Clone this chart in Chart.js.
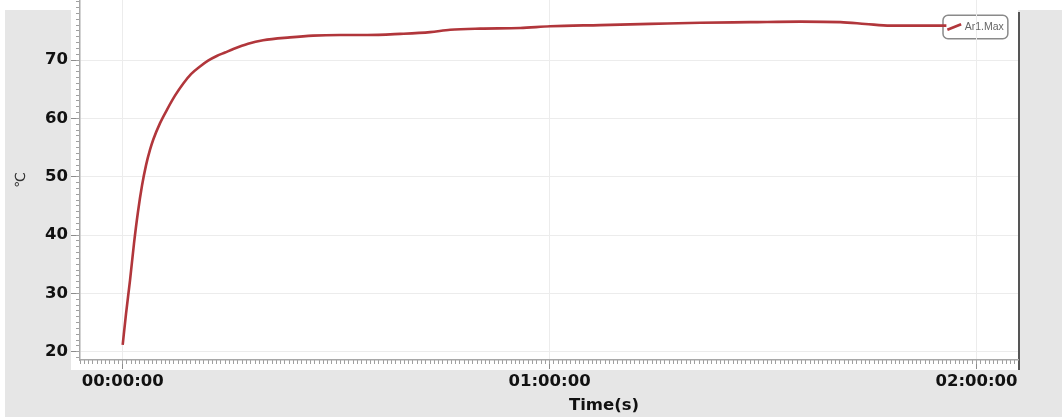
<!DOCTYPE html>
<html>
<head>
<meta charset="utf-8">
<script src="https://cdn.jsdelivr.net/npm/chart.js@4/dist/chart.umd.min.js"></script>
<style>
  html, body { margin: 0; padding: 0; background: #ffffff; }
  #wrap { position: relative; width: 1062px; height: 417px; overflow: hidden; }
  #panel { position: absolute; left: 5px; top: 10px; right: 0; bottom: 0; background: #e6e6e6; }
  #c { position: absolute; left: 0; top: 0; }
  #xTitle { position: absolute; left: 504px; width: 200px; top: 395px; text-align: center;
            font: bold 16.5px/20px 'DejaVu Sans', sans-serif; color: #111; }
</style>
</head>
<body>
<div id="wrap">
  <div id="panel"></div>
  <canvas id="c" width="1062" height="417"></canvas>
  <div id="xTitle">Time(s)</div>
</div>
<script>
// Temperature log of channel Ar1 (maximum), elapsed time in seconds
const seriesName = 'Ar1.Max';
const timeSeconds = [
  0, 28, 62, 95, 129, 163, 197, 230, 258, 315,
  371, 441, 511, 576, 652, 720, 793, 863, 933, 1057,
  1184, 1411, 1606, 1833, 2061, 2340, 2593, 2762, 3015, 3352,
  3605, 4027, 4449, 4871, 5293, 5715, 6052, 6263, 6474, 6727,
  6946
];
const tempC = [
  21.2, 26.5, 32.3, 38.5, 44.0, 48.5, 52.0, 54.6, 56.4, 59.2,
  61.4, 63.9, 66.0, 67.6, 68.9, 69.9, 70.7, 71.3, 71.9, 72.8,
  73.4, 73.9, 74.2, 74.3, 74.3, 74.5, 74.8, 75.2, 75.4, 75.5,
  75.8, 76.0, 76.2, 76.4, 76.5, 76.6, 76.5, 76.2, 75.9, 75.9,
  75.9
];
const xTickSeconds = [0, 3600, 7200];
const yTickValues = [20, 30, 40, 50, 60, 70];
const xRange = [-360, 7550];
const yRange = [18.6, 80.3];

function hms(sec) {
  const h = Math.floor(sec / 3600), m = Math.floor((sec % 3600) / 60), s = sec % 60;
  return [h, m, s].map(v => String(v).padStart(2, '0')).join(':');
}

const tickFont = { family: 'DejaVu Sans', weight: 'bold', size: 16.5 };

// White plot panel, dark right edge and the framed legend background
const panelPlugin = {
  id: 'panel',
  beforeDraw(chart) {
    const { ctx, chartArea: a } = chart;
    ctx.save();
    ctx.fillStyle = '#ffffff';
    ctx.fillRect(a.left - 9, a.top, a.right - a.left + 9, a.bottom - a.top + 10);
    ctx.strokeStyle = '#555555';
    ctx.lineWidth = 2;
    ctx.beginPath();
    ctx.moveTo(a.right + 1, a.top + 12);
    ctx.lineTo(a.right + 1, a.bottom + 10);
    ctx.stroke();
    const hb = chart.legend && chart.legend.legendHitBoxes && chart.legend.legendHitBoxes[0];
    if (hb) {
      const x0 = hb.left - 6, x1 = hb.left + hb.width + 4;
      const y0 = hb.top - 6.5, y1 = hb.top + hb.height + 6.5;
      ctx.beginPath();
      ctx.roundRect(x0, y0, x1 - x0, y1 - y0, 5);
      ctx.fillStyle = '#ffffff';
      ctx.fill();
      ctx.strokeStyle = '#8a8a8a';
      ctx.lineWidth = 1.5;
      ctx.stroke();
    }
    ctx.restore();
  },
  afterLayout(chart) {
    // legend sits in the top-right corner of the plot
    const lg = chart.legend, a = chart.chartArea;
    if (!lg) return;
    const p = lg.options.labels.padding;
    lg.left = a.right - 69 - p;
    lg.top = a.top + 21.75 - p;
  }
};

// plot edges follow the axes exactly, without room for the end labels
const noEdgePadding = s => { s.paddingTop = 0; s.paddingBottom = 0; s.paddingLeft = 0; s.paddingRight = 0; };

new Chart(document.getElementById('c'), {
  type: 'line',
  data: {
    datasets: [{
      label: seriesName,
      data: timeSeconds.map((t, i) => ({ x: t, y: tempC[i] })),
      borderColor: '#b1363b',
      backgroundColor: '#b1363b',
      borderWidth: 2.6,
      pointRadius: 0,
      pointStyle: 'line',
      pointRotation: -22,
      cubicInterpolationMode: 'monotone',
      fill: false
    }]
  },
  options: {
    responsive: false,
    animation: false,
    devicePixelRatio: 1,
    layout: { autoPadding: false, padding: { left: 5, right: 44, top: 0, bottom: 0 } },
    plugins: {
      legend: {
        position: 'chartArea',
        align: 'start',
        labels: {
          usePointStyle: true,
          boxWidth: 11, boxHeight: 11,
          padding: 4,
          color: '#666666',
          font: { family: 'Liberation Sans', size: 10.5 }
        }
      },
      tooltip: { enabled: false }
    },
    scales: {
      x: {
        type: 'linear', position: 'bottom', weight: 0,
        min: xRange[0], max: xRange[1],
        afterBuildTicks: s => { s.ticks = xTickSeconds.map(v => ({ value: v })); },
        afterFit: s => { s.height = 57; noEdgePadding(s); },
        ticks: { callback: v => hms(v), color: '#111', font: tickFont, padding: 3, maxRotation: 0, autoSkip: false },
        grid: { color: '#ececec', lineWidth: 1, tickLength: 9, tickColor: '#8c8c8c' },
        border: { color: '#a8a8a8', width: 1.5 }
      },
      xMinor: {
        type: 'linear', axis: 'x', position: 'bottom', weight: -1,
        min: xRange[0], max: xRange[1],
        afterFit: s => { s.height = 0; noEdgePadding(s); },
        ticks: { display: false, stepSize: 36, autoSkip: false, includeBounds: false },
        grid: { drawOnChartArea: false, tickLength: 4, tickColor: '#a0a0a0' },
        border: { display: false }
      },
      y: {
        type: 'linear', position: 'left', weight: 0,
        min: yRange[0], max: yRange[1],
        afterBuildTicks: s => { s.ticks = yTickValues.map(v => ({ value: v })); },
        afterFit: s => { s.width = 75; noEdgePadding(s); },
        ticks: { color: '#111', font: tickFont, padding: 3 },
        grid: { color: '#ececec', lineWidth: 1, tickLength: 9, tickColor: '#8c8c8c' },
        border: { color: '#a8a8a8', width: 1.5 },
        title: { display: true, text: '℃', color: '#333', font: { family: 'DejaVu Sans', size: 14 }, padding: { top: 8, bottom: 0 } }
      },
      yMinor: {
        type: 'linear', axis: 'y', position: 'left', weight: -1,
        min: yRange[0], max: yRange[1],
        afterFit: s => { s.width = 0; noEdgePadding(s); },
        ticks: { display: false, stepSize: 1, includeBounds: false },
        grid: { drawOnChartArea: false, tickLength: 4, tickColor: '#a0a0a0' },
        border: { display: false }
      }
    }
  },
  plugins: [panelPlugin]
});
</script>
</body>
</html>
